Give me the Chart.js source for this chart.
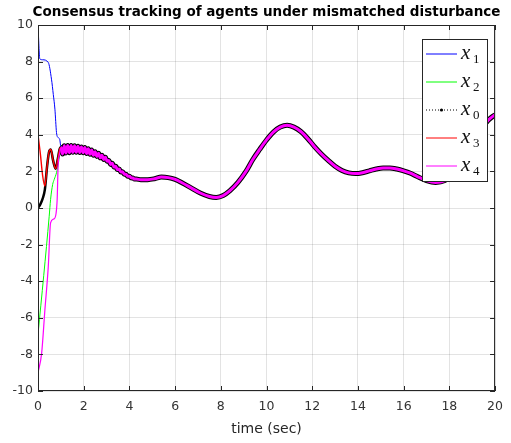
<!DOCTYPE html>
<html>
<head>
<meta charset="utf-8">
<script src="https://cdn.jsdelivr.net/npm/chart.js@4.4.1/dist/chart.umd.min.js"></script>
<style>
  html, body { margin: 0; padding: 0; background: #fff; }
  canvas { display: block; }
</style>
</head>
<body>
<canvas id="chart" width="511" height="443"></canvas>
<script>
// early transients of each agent (t < 1 s)
const t1Early = [0, 0.08, 0.2, 0.45, 0.59, 0.67, 0.74, 0.81, 0.88, 0.95];
const x1Early = [10, 8.15, 8.1, 7.95, 7.04, 6.2, 5.4, 4.12, 3.85, 3.75];

const t2Early = [0, 0.25, 0.49, 0.55, 0.64, 0.71, 0.81, 0.9, 0.95];
const x2Early = [-6.9, -3.7, -0.45, 0.46, 1.28, 1.56, 1.93, 2.5, 3.0];

const t0Early = [0, 0.1, 0.2, 0.3, 0.4, 0.48, 0.56, 0.66, 0.77, 0.87, 0.97];
const x0Early = [0, 0.2, 0.5, 1.0, 2.3, 3.05, 3.2, 2.6, 2.15, 2.7, 3.3];

const t3Early = [0, 0.1, 0.2, 0.3, 0.4, 0.48, 0.56, 0.66, 0.77, 0.87, 0.97];
const x3Early = [4.0, 3.0, 1.8, 1.2, 2.3, 3.05, 3.2, 2.6, 2.15, 2.7, 3.3];

const t4Early = [0, 0.16, 0.3, 0.45, 0.55, 0.69, 0.79, 0.84, 0.88, 0.95];
const x4Early = [-9.0, -7.93, -5.6, -3.19, -0.81, -0.6, -0.3, 0.5, 2.29, 3.0];

// common trajectory once consensus is reached
const tCommon = [1.0, 1.075, 1.15, 1.225, 1.3, 1.375, 1.45, 1.525, 1.6, 1.675, 1.75, 1.825, 1.9, 1.975,
  2.05, 2.125, 2.2, 2.275, 2.35, 2.425, 2.5, 2.575, 2.65, 2.725, 2.8, 2.875, 2.95, 3.025, 3.1, 3.175,
  3.25, 3.325, 3.4, 3.475, 3.55, 3.625, 3.7, 3.775, 3.85, 3.925, 4.0, 4.075, 4.15, 4.225, 4.3,
  4.5, 4.8, 5.1, 5.4, 5.7, 6.0, 6.3, 6.7, 7.1, 7.5, 7.8, 8.1, 8.4, 8.75, 9.1, 9.4, 9.7, 10.0, 10.3,
  10.6, 10.9, 11.2, 11.5, 11.8, 12.1, 12.4, 12.7, 13.0, 13.3, 13.6, 13.9, 14.2, 14.5, 14.8, 15.1,
  15.4, 15.7, 16.0, 16.3, 16.6, 17.0, 17.4, 17.8, 18.2, 18.6, 19.0, 19.45, 19.7, 20.0];
const xCommon = [3.30, 2.95, 3.40, 3.00, 3.42, 3.02, 3.42, 3.04, 3.40, 3.04, 3.38, 3.03, 3.34, 3.02,
  3.30, 2.98, 3.24, 2.94, 3.17, 2.88, 3.08, 2.82, 2.99, 2.74, 2.88, 2.65, 2.77, 2.55, 2.60, 2.38,
  2.45, 2.24, 2.28, 2.10, 2.13, 1.97, 1.98, 1.85, 1.85, 1.74, 1.74, 1.65, 1.64, 1.58, 1.58,
  1.55, 1.55, 1.60, 1.69, 1.66, 1.56, 1.38, 1.10, 0.82, 0.63, 0.58, 0.68, 0.95, 1.40, 2.00, 2.65,
  3.20, 3.72, 4.15, 4.42, 4.52, 4.42, 4.18, 3.80, 3.35, 2.95, 2.60, 2.28, 2.05, 1.92, 1.88, 1.93,
  2.03, 2.13, 2.19, 2.19, 2.13, 2.03, 1.90, 1.72, 1.50, 1.40, 1.50, 1.90, 2.60, 3.50, 4.40, 4.80, 5.10];

const xTicks = [0, 2, 4, 6, 8, 10, 12, 14, 16, 18, 20];
const yTicks = [-10, -8, -6, -4, -2, 0, 2, 4, 6, 8, 10];
const legendSubs = ['1', '2', '0', '3', '4'];

const titleText = 'Consensus tracking of agents under mismatched disturbance';

function agentPoints(tEarly, xEarly) {
  const pts = tEarly.map((t, i) => ({ x: t, y: xEarly[i] }));
  tCommon.forEach((t, i) => pts.push({ x: t, y: xCommon[i] }));
  return pts;
}

// thicker stroke once the trajectories overlap
const widthFrom = (t0, w) => ctx => (ctx.p0.parsed.x >= t0 ? w : undefined);

const matlabLook = {
  id: 'matlabLook',
  afterDraw(chart) {
    const { ctx, chartArea: a, scales } = chart;
    ctx.save();

    // axes box + inward ticks
    ctx.strokeStyle = '#262626';
    ctx.lineWidth = 1;
    ctx.strokeRect(a.left + 0.5, a.top + 0.5, a.right - a.left - 1, a.bottom - a.top - 1);
    const tl = 5;
    ctx.beginPath();
    xTicks.forEach(v => {
      const px = Math.round(scales.x.getPixelForValue(v)) + 0.5;
      ctx.moveTo(px, a.bottom); ctx.lineTo(px, a.bottom - tl);
      ctx.moveTo(px, a.top); ctx.lineTo(px, a.top + tl);
    });
    yTicks.forEach(v => {
      const py = Math.round(scales.y.getPixelForValue(v)) + 0.5;
      ctx.moveTo(a.left, py); ctx.lineTo(a.left + tl, py);
      ctx.moveTo(a.right, py); ctx.lineTo(a.right - tl, py);
    });
    ctx.stroke();

    // title
    ctx.fillStyle = '#000';
    ctx.font = 'bold 13.5px "DejaVu Sans", sans-serif';
    ctx.textAlign = 'center';
    ctx.textBaseline = 'middle';
    ctx.fillText(titleText, (a.left + a.right) / 2, 12);

    // legend
    const lx = 422, ly = 39, lw = 65, lh = 142;
    ctx.fillStyle = '#fff';
    ctx.fillRect(lx, ly, lw, lh);
    ctx.strokeStyle = '#262626';
    ctx.strokeRect(lx + 0.5, ly + 0.5, lw, lh);
    chart.data.datasets.forEach((ds, i) => {
      const y = 54 + i * 28;
      ctx.strokeStyle = ds.borderColor;
      ctx.lineWidth = 1;
      ctx.setLineDash(i === 2 ? [1, 2] : []);
      ctx.beginPath();
      ctx.moveTo(426, y); ctx.lineTo(457, y);
      ctx.stroke();
      ctx.setLineDash([]);
      if (i === 2) {
        ctx.fillStyle = '#000';
        ctx.beginPath(); ctx.arc(441.5, y, 1.6, 0, Math.PI * 2); ctx.fill();
      }
      ctx.fillStyle = '#111';
      ctx.textAlign = 'left';
      ctx.textBaseline = 'alphabetic';
      ctx.font = 'italic 21px "Liberation Serif", serif';
      ctx.fillText('x', 461, y + 5);
      ctx.font = '13px "Liberation Serif", serif';
      ctx.fillText(legendSubs[i], 473, y + 9);
    });
    ctx.restore();
  }
};

Chart.defaults.font.family = '"DejaVu Sans", sans-serif';

new Chart(document.getElementById('chart'), {
  type: 'line',
  data: {
    datasets: [
      { label: 'x1', data: agentPoints(t1Early, x1Early), borderColor: '#0000ff', borderWidth: 1, order: 5 },
      { label: 'x2', data: agentPoints(t2Early, x2Early), borderColor: '#00ff00', borderWidth: 1, order: 4 },
      { label: 'x0', data: agentPoints(t0Early, x0Early), borderColor: '#000000', borderWidth: 2.5, order: 3,
        segment: { borderWidth: widthFrom(0.99, 5) } },
      { label: 'x3', data: agentPoints(t3Early, x3Early), borderColor: '#ff0000', borderWidth: 1.4, order: 2 },
      { label: 'x4', data: agentPoints(t4Early, x4Early), borderColor: '#ff00ff', borderWidth: 1.2, order: 1,
        segment: { borderWidth: widthFrom(0.99, 3) } }
    ]
  },
  options: {
    responsive: false,
    animation: false,
    devicePixelRatio: 1,
    layout: { padding: { top: 25, right: 10, bottom: 0, left: 0 } },
    elements: {
      point: { radius: 0 },
      line: { cubicInterpolationMode: 'monotone', borderJoinStyle: 'round', fill: false }
    },
    plugins: { legend: { display: false }, tooltip: { enabled: false }, title: { display: false } },
    scales: {
      x: {
        type: 'linear', min: 0, max: 20,
        afterBuildTicks: s => { s.ticks = xTicks.map(v => ({ value: v })); },
        afterFit: s => { s.height = 52; },
        ticks: { color: '#333', font: { size: 12.5 }, padding: 8, maxRotation: 0 },
        grid: { color: 'rgba(38,38,38,0.13)', drawTicks: false },
        border: { display: false },
        title: { display: true, text: 'time (sec)', color: '#262626', font: { size: 14 }, padding: { top: 0, bottom: 5 } }
      },
      y: {
        type: 'linear', min: -10, max: 10,
        afterBuildTicks: s => { s.ticks = yTicks.map(v => ({ value: v })); },
        afterFit: s => { s.width = 38; },
        ticks: { color: '#333', font: { size: 12.5 }, padding: 5 },
        grid: { color: 'rgba(38,38,38,0.13)', drawTicks: false },
        border: { display: false }
      }
    }
  },
  plugins: [matlabLook]
});
</script>
</body>
</html>
